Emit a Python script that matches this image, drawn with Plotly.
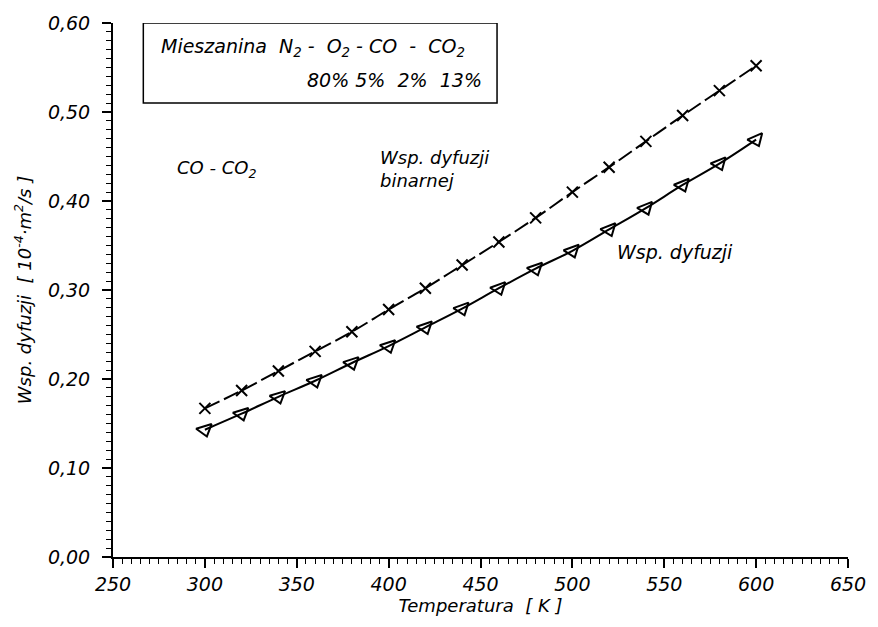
import math
import plotly.graph_objects as go

# ---- data ----
temperature = [300, 320, 340, 360, 380, 400, 420, 440, 460, 480, 500, 520, 540, 560, 580, 600]
binary_co_co2 = [0.167, 0.187, 0.209, 0.231, 0.253, 0.278, 0.302, 0.328, 0.354, 0.381,
                 0.410, 0.438, 0.467, 0.496, 0.524, 0.552]
mixture_co = [0.143, 0.161, 0.180, 0.198, 0.218, 0.237, 0.258, 0.279, 0.302, 0.324,
              0.344, 0.368, 0.392, 0.418, 0.442, 0.469]
x_tick_vals = [250, 300, 350, 400, 450, 500, 550, 600, 650]
y_tick_vals = [0.0, 0.1, 0.2, 0.3, 0.4, 0.5, 0.6]
y_tick_text = ["0,00", "0,10", "0,20", "0,30", "0,40", "0,50", "0,60"]

FONT = "DejaVu Sans"
x_range = [250, 650]
y_range = [0.0, 0.6]
L, R, T, B = 113, 30, 17, 70
W, H = 878, 627
px_per_x = (W - L - R) / (x_range[1] - x_range[0])
px_per_y = (H - T - B) / (y_range[1] - y_range[0])

# marker orientation follows local slope of curve (screen space)
angles = []
n = len(temperature)
for i in range(n):
    a = max(i - 1, 0); b = min(i + 1, n - 1)
    dx = (temperature[b] - temperature[a]) * px_per_x
    dy = (mixture_co[b] - mixture_co[a]) * px_per_y
    angles.append(-math.degrees(math.atan2(dy, dx)) * 0.7)

fig = go.Figure()
fig.add_trace(go.Scatter(
    x=temperature, y=binary_co_co2, mode="lines+markers",
    line=dict(color="black", width=2, dash="16px,5px", shape="spline"),
    marker=dict(symbol="x-thin", size=11, line=dict(color="black", width=2)),
    showlegend=False))
fig.add_trace(go.Scatter(
    x=temperature, y=mixture_co, mode="lines+markers",
    line=dict(color="black", width=2, shape="spline"),
    marker=dict(symbol="triangle-down-open", size=14, angle=angles,
                color="black", line=dict(color="black", width=2)),
    showlegend=False))

tickfont = dict(family=FONT, size=19, color="black")
fig.update_xaxes(
    range=x_range, tickvals=x_tick_vals, ticktext=[f"<i>{v}</i>" for v in x_tick_vals],
    showgrid=False, zeroline=False, showline=True, linecolor="black", linewidth=2,
    ticks="outside", ticklen=9, tickwidth=1.5, tickcolor="black",
    minor=dict(dtick=5, ticks="outside", ticklen=5, tickwidth=1, tickcolor="black"),
    tickfont=tickfont,
    title=dict(text="<i>Temperatura  [ K ]</i>", font=dict(family=FONT, size=18, color="black"), standoff=6))
fig.update_yaxes(
    range=y_range, tickvals=y_tick_vals, ticktext=[f"<i>{t}</i>" for t in y_tick_text],
    showgrid=False, zeroline=False, showline=True, linecolor="black", linewidth=2,
    ticks="outside", ticklen=9, tickwidth=1.5, tickcolor="black",
    minor=dict(dtick=0.01, ticks="outside", ticklen=5, tickwidth=1, tickcolor="black"),
    tickfont=tickfont, ticklabelstandoff=8,
    title=dict(text="<i>Wsp. dyfuzji  [ 10<sup>-4</sup>·m<sup>2</sup>/s ]</i>",
               font=dict(family=FONT, size=18, color="black"), standoff=12))

# legend-like box
fig.add_shape(type="rect", x0=266.5, x1=459, y0=0.51, y1=0.60, xref="x", yref="y",
              line=dict(color="black", width=1.5), fillcolor="white")
afont = dict(family=FONT, size=18, color="black")
fig.add_annotation(x=275, y=0.572, xref="x", yref="y", xanchor="left", yanchor="middle",
                   text="<i>Mieszanina&nbsp; N<sub>2</sub> -&nbsp; O<sub>2</sub> - CO&nbsp; -&nbsp; CO<sub>2</sub></i>",
                   showarrow=False, font=dict(family=FONT, size=19, color="black"))
fig.add_annotation(x=452, y=0.536, xref="x", yref="y", xanchor="right", yanchor="middle",
                   text="<i>80% 5%&nbsp; 2%&nbsp; 13%</i>", showarrow=False,
                   font=dict(family=FONT, size=19, color="black"))
fig.add_annotation(x=283.5, y=0.436, xref="x", yref="y", xanchor="left", yanchor="middle",
                   text="<i>CO - CO<sub>2</sub></i>", showarrow=False, font=afont)
fig.add_annotation(x=394, y=0.436, xref="x", yref="y", xanchor="left", yanchor="middle",
                   text="<i>Wsp. dyfuzji<br>binarnej</i>", align="left", showarrow=False, font=afont)
fig.add_annotation(x=523, y=0.343, xref="x", yref="y", xanchor="left", yanchor="middle",
                   text="<i>Wsp. dyfuzji</i>", showarrow=False,
                   font=dict(family=FONT, size=19, color="black"))

fig.update_layout(
    width=W, height=H, margin=dict(l=L, r=R, t=T, b=B),
    paper_bgcolor="white", plot_bgcolor="white", showlegend=False)
fig.write_html("out.html")
